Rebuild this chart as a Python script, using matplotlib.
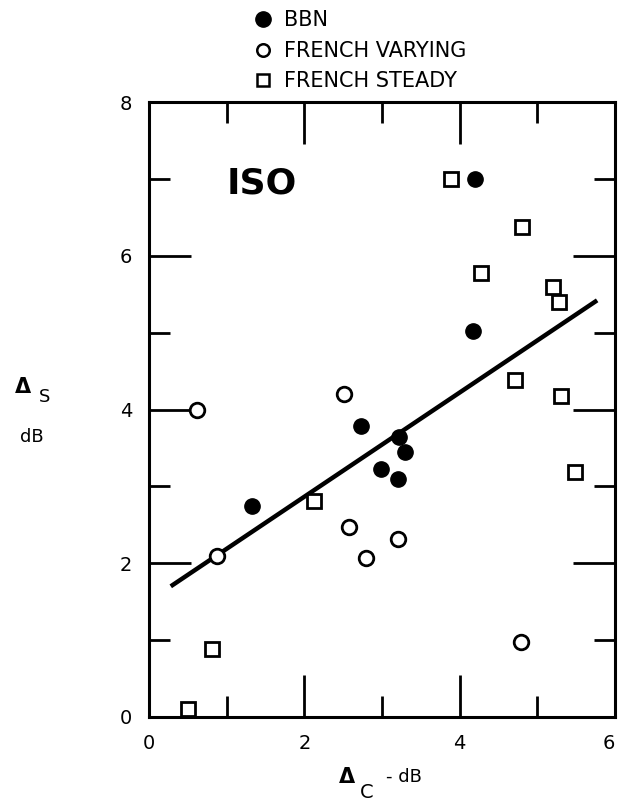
import matplotlib
matplotlib.use("Agg")
import matplotlib.pyplot as plt
from matplotlib.lines import Line2D

# BBN (filled circles)
bbn_x = [1.32, 2.73, 3.22, 3.29, 2.99, 3.21, 4.17, 4.20]
bbn_y = [2.74, 3.79, 3.64, 3.45, 3.23, 3.09, 5.02, 7.00]

# French varying (open circles)
fv_x = [0.62, 0.88, 2.51, 2.57, 2.79, 3.20, 4.79]
fv_y = [4.00, 2.10, 4.20, 2.47, 2.07, 2.31, 0.98]

# French steady (open squares)
fs_x = [0.50, 0.81, 2.13, 3.89, 4.28, 4.71, 4.80, 5.20, 5.28, 5.30, 5.49]
fs_y = [0.10, 0.89, 2.81, 7.00, 5.78, 4.39, 6.38, 5.60, 5.40, 4.17, 3.19]

# regression line end points
fit_x = [0.28, 5.77]
fit_y = [1.70, 5.42]

plt.rcParams["font.family"] = ["DejaVu Sans"]

fig = plt.figure(figsize=(6.19, 8.11), dpi=100)
ax = fig.add_axes([149 / 619, 1 - 717 / 811, 466 / 619, 615 / 811])

ax.plot(fit_x, fit_y, color="black", lw=3.2, solid_capstyle="butt", zorder=2)
ax.plot(bbn_x, bbn_y, "o", ms=11, mfc="black", mec="black", zorder=3)
ax.plot(fv_x, fv_y, "o", ms=10.5, mfc="white", mec="black", mew=2, zorder=3)
ax.plot(fs_x, fs_y, "s", ms=9.5, mfc="white", mec="black", mew=2, zorder=3)

ax.set_xlim(0, 6)
ax.set_ylim(0, 8)
ax.set_xticks([0, 2, 4, 6])
ax.set_yticks([0, 2, 4, 6, 8])
ax.set_xticks([1, 3, 5], minor=True)
ax.set_yticks([1, 3, 5, 7], minor=True)
ax.tick_params(which="both", direction="in", top=True, right=True, width=2, colors="black")
ax.tick_params(which="major", length=30, labelsize=14, pad=12)
ax.tick_params(which="minor", length=15)
for side in ax.spines.values():
    side.set_linewidth(2.2)
ax.get_xticklabels()[-1].set_ha("right")

ax.text(0.2425, 0.868, "ISO", transform=ax.transAxes, fontsize=26, fontweight="bold",
        ha="center", va="center")

# axis labels
fig.text(23 / 619, 1 - 387 / 811, "Δ", fontsize=15, fontweight="bold", ha="center", va="center")
fig.text(45 / 619, 1 - 397 / 811, "S", fontsize=13, ha="center", va="center")
fig.text(32 / 619, 1 - 437 / 811, "dB", fontsize=13, ha="center", va="center")
fig.text(347 / 619, 1 - 777 / 811, "Δ", fontsize=15, fontweight="bold", ha="center", va="center")
fig.text(367 / 619, 1 - 793 / 811, "C", fontsize=14, ha="center", va="center")
fig.text(386 / 619, 1 - 777 / 811, "- dB", fontsize=13, ha="left", va="center")

# legend above the plot
handles = [
    Line2D([], [], ls="none", marker="o", ms=11, mfc="black", mec="black"),
    Line2D([], [], ls="none", marker="o", ms=9, mfc="white", mec="black", mew=1.8),
    Line2D([], [], ls="none", marker="s", ms=8.5, mfc="white", mec="black", mew=1.8),
]
names = ["BBN", "FRENCH VARYING", "FRENCH STEADY"]
fig.legend(handles, names, loc="upper left", bbox_to_anchor=(240 / 619, 1 - 0 / 811),
           frameon=False, fontsize=15, handletextpad=0.4, labelspacing=0.5,
           handlelength=1.2, borderpad=0)

fig.savefig("out.png", dpi=100)
